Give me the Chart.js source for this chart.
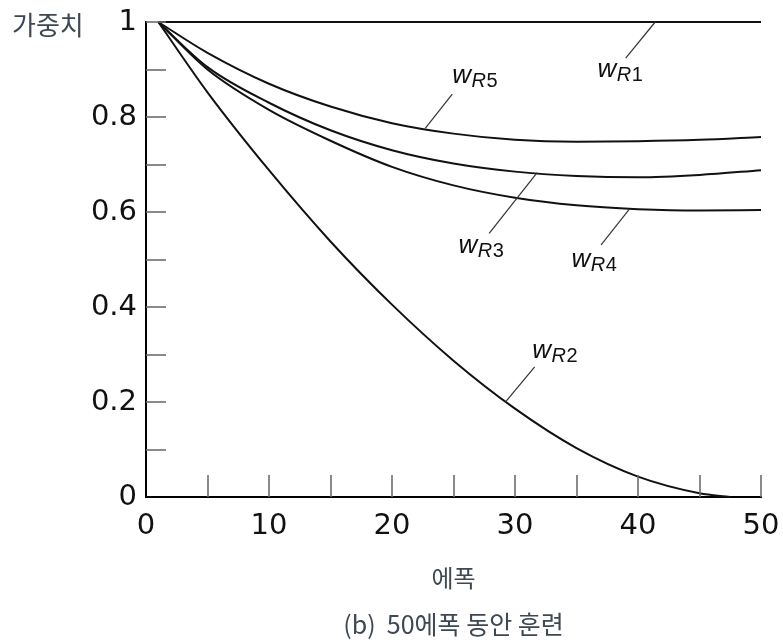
<!DOCTYPE html>
<html>
<head>
<meta charset="utf-8">
<script src="https://cdn.jsdelivr.net/npm/chart.js@4.4.1/dist/chart.umd.min.js"></script>
<style>
  html, body { margin: 0; padding: 0; background: #fff; }
  canvas { display: block; }
</style>
</head>
<body>
<canvas id="chart" width="783" height="643"></canvas>
<script>
// values (weight vs. epoch)
const EPOCHS = [1, 5, 10, 15, 20, 25, 30, 35, 40, 45, 50];
const W_R2_EPOCHS = [1, 5, 10, 15, 20, 25, 30, 35, 40, 45, 47.5];
const W_R1 = [1, 1, 1, 1, 1, 1, 1, 1, 1, 1, 1];
const W_R2 = [1, 0.852, 0.688, 0.538, 0.405, 0.287, 0.186, 0.103, 0.043, 0.008, 0];
const W_R3 = [1, 0.905, 0.83, 0.772, 0.73, 0.702, 0.685, 0.676, 0.673, 0.678, 0.688];
const W_R4 = [1, 0.9, 0.815, 0.75, 0.695, 0.656, 0.63, 0.614, 0.606, 0.603, 0.604];
const W_R5 = [1, 0.935, 0.87, 0.822, 0.787, 0.765, 0.752, 0.748, 0.749, 0.752, 0.758];

const Y_TITLE = '가중치';
const X_TITLE = '에폭';
const CAPTION = '(b)  50에폭 동안 훈련';

// curve labels: leader from a point on the curve to the tip, text at label pos (data units)
const CURVE_LABELS = [
  { sub: '1', from: [41.4, 1.0],   to: [39.0, 0.924],  at: [36.7, 0.884] },
  { sub: '2', from: [29.2, 0.199], to: [31.6, 0.274],  at: [31.4, 0.293] },
  { sub: '3', from: [31.8, 0.683], to: [27.9, 0.555],  at: [25.4, 0.514] },
  { sub: '4', from: [39.3, 0.606], to: [37.0, 0.531],  at: [34.6, 0.484] },
  { sub: '5', from: [22.7, 0.776], to: [24.9, 0.848],  at: [24.9, 0.872] }
];

const TEXT_COLOR = '#3e4853';
const TICK_FONT = { family: 'DejaVu Sans', size: 29 };

function toPoints(xs, ys) {
  return ys.map((y, i) => ({ x: xs[i], y: y }));
}

function lineSet(label, xs, ys) {
  return {
    label: label,
    data: toPoints(xs, ys),
    borderColor: '#111',
    borderWidth: 2,
    pointRadius: 0,
    fill: false,
    cubicInterpolationMode: 'monotone',
    clip: false
  };
}

// short tick marks pointing into the plot, one per library tick
const innerTicks = {
  id: 'innerTicks',
  afterDraw(chart) {
    const ctx = chart.ctx, xs = chart.scales.x, ys = chart.scales.y;
    const area = chart.chartArea;
    ctx.save();
    ctx.strokeStyle = '#6c6c6c';
    ctx.lineWidth = 1.6;
    xs.ticks.forEach(t => {
      if (t.value <= 0) return;
      const px = Math.round(xs.getPixelForValue(t.value));
      ctx.beginPath();
      ctx.moveTo(px, area.bottom);
      ctx.lineTo(px, area.bottom - 22);
      ctx.stroke();
    });
    ys.ticks.forEach(t => {
      if (t.value <= 0) return;
      const py = Math.round(ys.getPixelForValue(t.value));
      ctx.beginPath();
      ctx.moveTo(area.left, py);
      ctx.lineTo(area.left + 20, py);
      ctx.stroke();
    });
    ctx.restore();
  }
};

const textBits = {
  id: 'textBits',
  afterDraw(chart) {
    const ctx = chart.ctx, xs = chart.scales.x, ys = chart.scales.y;
    const area = chart.chartArea;
    const midX = (area.left + area.right) / 2;
    ctx.save();

    // leaders and w_R labels
    CURVE_LABELS.forEach(c => {
      ctx.strokeStyle = '#333';
      ctx.lineWidth = 1.2;
      ctx.beginPath();
      ctx.moveTo(xs.getPixelForValue(c.from[0]), ys.getPixelForValue(c.from[1]));
      ctx.lineTo(xs.getPixelForValue(c.to[0]), ys.getPixelForValue(c.to[1]));
      ctx.stroke();

      let x = xs.getPixelForValue(c.at[0]);
      const base = ys.getPixelForValue(c.at[1]);
      ctx.fillStyle = '#111';
      ctx.textAlign = 'left';
      ctx.textBaseline = 'alphabetic';
      ctx.font = 'italic 26px "Liberation Sans"';
      ctx.fillText('w', x, base);
      x += ctx.measureText('w').width + 0.5;
      ctx.font = 'italic 20px "Liberation Sans"';
      ctx.fillText('R', x, base + 4);
      x += ctx.measureText('R').width + 0.5;
      ctx.font = '20px "Liberation Sans"';
      ctx.fillText(c.sub, x, base + 4);
    });

    ctx.fillStyle = TEXT_COLOR;
    ctx.textBaseline = 'middle';
    ctx.textAlign = 'left';
    ctx.font = '26px "Noto Sans CJK KR"';
    ctx.fillText(Y_TITLE, 12, 25);

    ctx.textAlign = 'center';
    ctx.font = '24px "Noto Sans CJK KR"';
    ctx.fillText(X_TITLE, midX, 578);
    ctx.font = '25px "Noto Sans CJK KR"';
    ctx.fillText(CAPTION, midX, 624);
    ctx.restore();
  }
};

const ctx = document.getElementById('chart').getContext('2d');
new Chart(ctx, {
  type: 'line',
  data: {
    datasets: [
      lineSet('w_R1', EPOCHS, W_R1),
      lineSet('w_R2', W_R2_EPOCHS, W_R2),
      lineSet('w_R3', EPOCHS, W_R3),
      lineSet('w_R4', EPOCHS, W_R4),
      lineSet('w_R5', EPOCHS, W_R5)
    ]
  },
  options: {
    responsive: false,
    animation: false,
    layout: { padding: { left: 0, top: 22, right: 22, bottom: 0 } },
    scales: {
      x: {
        type: 'linear',
        min: 0,
        max: 50,
        afterFit: s => { s.height = 146; s.paddingRight = 0; s.paddingLeft = 0; },
        grid: { display: false, drawTicks: false, tickLength: 0 },
        border: { display: true, color: '#000', width: 2 },
        ticks: {
          stepSize: 5,
          autoSkip: false,
          maxRotation: 0,
          padding: 12,
          color: '#111',
          font: TICK_FONT,
          callback: v => (v % 10 === 0 ? String(v) : '')
        }
      },
      y: {
        min: 0,
        max: 1,
        afterFit: s => { s.width = 146; s.paddingTop = 0; s.paddingBottom = 0; },
        grid: { display: false, drawTicks: false, tickLength: 0 },
        border: { display: true, color: '#000', width: 2 },
        ticks: {
          stepSize: 0.1,
          autoSkip: false,
          padding: 9,
          color: '#111',
          font: TICK_FONT,
          callback: v => (Math.round(v * 10) % 2 === 0 ? String(Math.round(v * 10) / 10) : '')
        }
      }
    },
    plugins: {
      legend: { display: false },
      tooltip: { enabled: false }
    }
  },
  plugins: [innerTicks, textBits]
});
</script>
</body>
</html>
